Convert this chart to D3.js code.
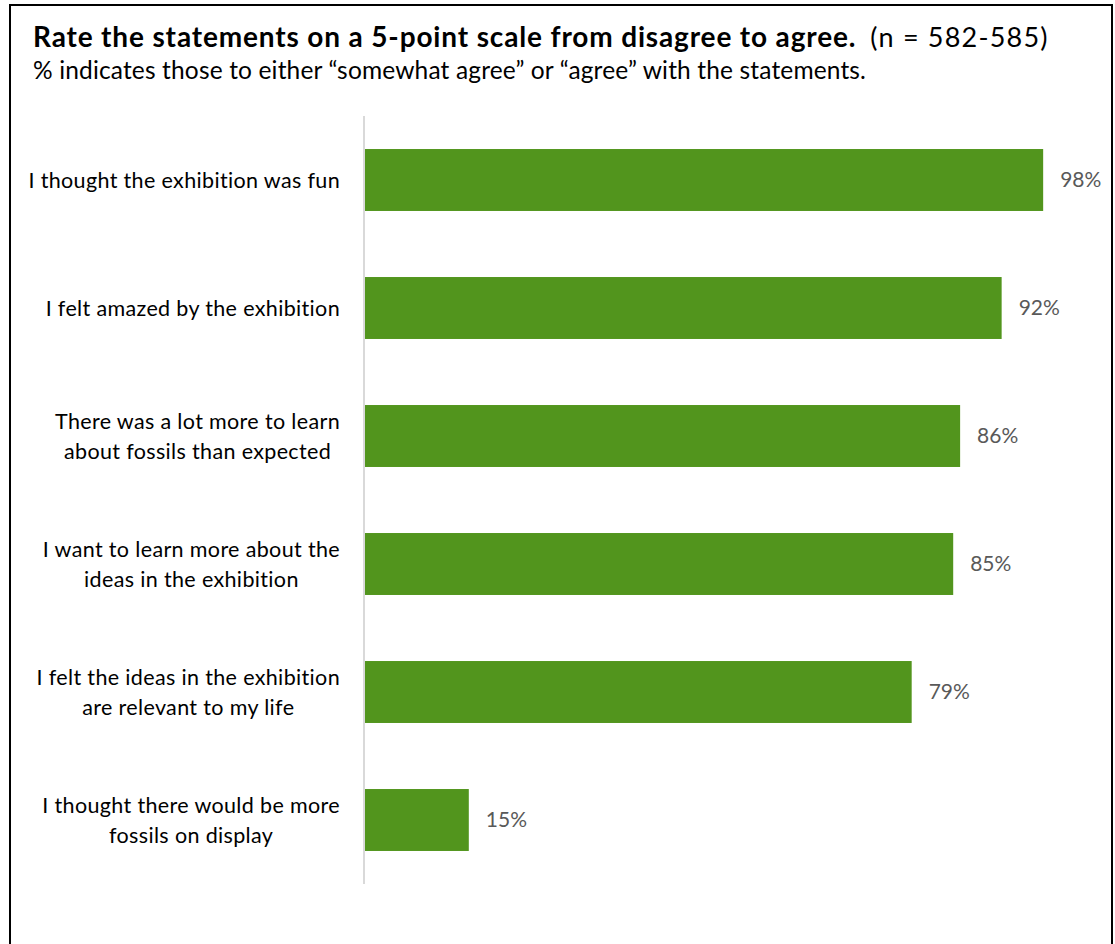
<!DOCTYPE html>
<html>
<head>
<meta charset="utf-8">
<script src="https://cdn.jsdelivr.net/npm/d3@7"></script>
<style>
  html, body { margin: 0; padding: 0; background: #fff; }
  svg { display: block; }
</style>
</head>
<body>
<svg id="chart" width="1115" height="944"></svg>
<script>
// Survey statements (each entry is the wrapped lines of one label)
const statements = [
  ["I thought the exhibition was fun"],
  ["I felt amazed by the exhibition"],
  ["There was a lot more to learn", "about fossils than expected"],
  ["I want to learn more about the", "ideas in the exhibition"],
  ["I felt the ideas in the exhibition", "are relevant to my life"],
  ["I thought there would be more", "fossils on display"]
];
// Share agreeing (somewhat agree + agree), in percent
const agreePct = [98, 92, 86, 85, 79, 15];
const titleBold = "Rate the statements on a 5-point scale from disagree to agree.";
const titleNote = "(n = 582-585)";
const subtitle = "% indicates those to either \u201csomewhat agree\u201d or \u201cagree\u201d with the statements.";

const FONT = "Lato, 'Open Sans', sans-serif";
const svg = d3.select("#chart");

// Frame around the whole figure (runs off the bottom edge)
svg.append("path")
  .attr("d", "M10,960 V5 H1112 V960")
  .attr("fill", "none")
  .attr("stroke", "#000")
  .attr("stroke-width", 2);

// Title line: bold question plus sample size
const title = svg.append("text")
  .attr("x", 33).attr("y", 47)
  .attr("font-family", FONT)
  .attr("fill", "#000");
title.append("tspan")
  .attr("font-weight", "bold")
  .attr("font-size", 28)
  .attr("letter-spacing", 0.85)
  .text(titleBold);
title.append("tspan")
  .attr("font-size", 27)
  .attr("letter-spacing", 1.2)
  .attr("dx", 14)
  .text(titleNote);

svg.append("text")
  .attr("x", 33).attr("y", 79)
  .attr("font-family", FONT)
  .attr("font-size", 24.5)
  .attr("letter-spacing", 0.15)
  .attr("fill", "#000")
  .text(subtitle);

// Plot geometry
const x0 = 365, yTop = 116, yBottom = 884;
const x = d3.scaleLinear().domain([0, 100]).range([x0, x0 + 692]);
const y = d3.scaleBand()
  .domain(d3.range(statements.length))
  .range([yTop, yBottom])
  .paddingInner(0.516)
  .paddingOuter(0.258);

// Bars
svg.append("g")
  .selectAll("rect")
  .data(agreePct)
  .join("rect")
  .attr("x", x(0))
  .attr("y", (d, i) => y(i))
  .attr("width", d => x(d) - x(0))
  .attr("height", y.bandwidth())
  .attr("fill", "#52951d");

// Category axis line
svg.append("line")
  .attr("x1", x0 - 1).attr("x2", x0 - 1)
  .attr("y1", yTop).attr("y2", yBottom)
  .attr("stroke", "#d9d9d9")
  .attr("stroke-width", 2);

// Value labels at bar ends
svg.append("g")
  .selectAll("text")
  .data(agreePct)
  .join("text")
  .attr("x", d => x(d) + 17)
  .attr("y", (d, i) => y(i) + y.bandwidth() / 2)
  .attr("dy", "0.35em")
  .attr("font-family", FONT)
  .attr("font-size", 21)
  .attr("fill", "#595959")
  .text(d => d + "%");

// Category labels: block right-aligned to the axis, lines centred within the block
const labelRight = 340, lineGap = 30;
const labels = svg.append("g")
  .attr("font-family", FONT)
  .attr("font-size", 21.5)
  .attr("letter-spacing", 0.35)
  .attr("fill", "#000");
statements.forEach((lines, i) => {
  const cy = y(i) + y.bandwidth() / 2;
  const g = labels.append("g");
  const texts = lines.map((ln, k) =>
    g.append("text")
      .attr("y", cy + (k - (lines.length - 1) / 2) * lineGap)
      .attr("dy", "0.35em")
      .attr("text-anchor", "middle")
      .text(ln));
  const maxW = d3.max(texts, t => t.node().getComputedTextLength());
  texts.forEach(t => t.attr("x", labelRight - maxW / 2));
});
</script>
</body>
</html>
